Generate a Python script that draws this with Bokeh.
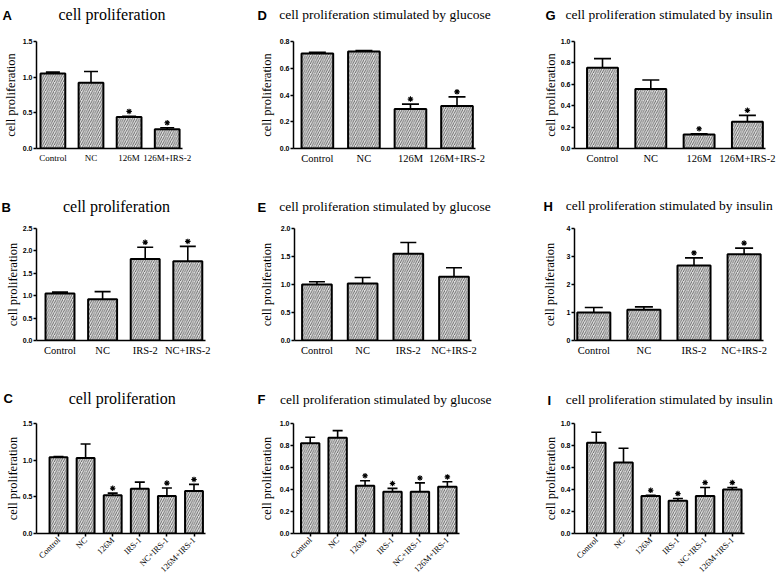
import math
from bokeh.plotting import figure
from bokeh.models import (ColumnDataSource, Range1d, FixedTicker, PrintfTickFormatter,
                          Whisker, TeeHead, Label)
from bokeh.layouts import row, column
from bokeh.embed import file_html
from bokeh.resources import INLINE

# ---------------- data ----------------
cats_126m = ["Control", "NC", "126M", "126M+IRS-2"]
cats_irs2 = ["Control", "NC", "IRS-2", "NC+IRS-2"]
cats_irs1 = ["Control", "NC", "126M", "IRS-1", "NC+IRS-1", "126M+IRS-1"]

a_mean = [1.05, 0.92, 0.44, 0.27]
a_sem = [0.02, 0.16, 0.01, 0.02]
a_star = [0, 0, 1, 1]

b_mean = [1.05, 0.92, 1.82, 1.77]
b_sem = [0.03, 0.17, 0.26, 0.33]
b_star = [0, 0, 1, 1]

c_mean = [1.04, 1.03, 0.52, 0.61, 0.51, 0.58]
c_sem = [0.01, 0.19, 0.03, 0.09, 0.11, 0.09]
c_star = [0, 0, 1, 0, 1, 1]

d_mean = [0.71, 0.725, 0.295, 0.318]
d_sem = [0.01, 0.008, 0.037, 0.068]
d_star = [0, 0, 1, 1]

e_mean = [1.0, 1.02, 1.55, 1.14]
e_sem = [0.05, 0.105, 0.2, 0.16]
e_star = [0, 0, 0, 0]

f_mean = [0.82, 0.87, 0.435, 0.38, 0.38, 0.425]
f_sem = [0.055, 0.065, 0.045, 0.03, 0.08, 0.045]
f_star = [0, 0, 1, 1, 1, 1]

g_mean = [0.755, 0.555, 0.13, 0.25]
g_sem = [0.085, 0.085, 0.008, 0.06]
g_star = [0, 0, 1, 1]

h_mean = [1.0, 1.1, 2.68, 3.08]
h_sem = [0.18, 0.1, 0.27, 0.22]
h_star = [0, 0, 1, 1]

i_mean = [0.825, 0.645, 0.34, 0.298, 0.34, 0.40]
i_sem = [0.095, 0.13, 0.008, 0.02, 0.078, 0.018]
i_star = [0, 0, 1, 1, 1, 1]

ticks_a = [0.0, 0.5, 1.0, 1.5]
ticks_b = [0.0, 0.5, 1.0, 1.5, 2.0, 2.5]
ticks_c = [0.0, 0.5, 1.0, 1.5]
ticks_d = [0.0, 0.2, 0.4, 0.6, 0.8]
ticks_e = [0.0, 0.5, 1.0, 1.5, 2.0]
ticks_f = [0.0, 0.2, 0.4, 0.6, 0.8, 1.0]
ticks_g = [0.0, 0.2, 0.4, 0.6, 0.8, 1.0]
ticks_h = [0, 1, 2, 3, 4]
ticks_i = [0.0, 0.2, 0.4, 0.6, 0.8, 1.0]

title_plain = "cell proliferation"
title_glucose = "cell proliferation stimulated by glucose"
title_insulin = "cell proliferation stimulated by insulin"
y_label = "cell proliferation"

# ---------------- layout (page pixels) ----------------
PAGE_W = 780
COL_X = [0, 256, 512]
COL_W = [256, 256, 268]
COL_FRAME_LEFT = [36, 292, 574]      # shared frame left per column
HEAD_Y = [0, 190, 380]               # header strip (panel letter + title) per row
HEAD_H = 28
ROW_Y = [28, 218, 408]               # chart strip per row
ROW_H = [162, 162, 172]
ROW_FRAME = [(41, 148), (228, 340), (423, 535)]   # shared frame top / bottom per row
STAR_GAP_PX = 5                      # distance of the significance star above the error cap

SERIF = "Liberation Serif"
SANS = "Liberation Sans"

# c0 = first bar centre (px), sp = bar spacing (px), right = x-axis end (px)
panels = {
    "A": dict(col=0, row=0, cats=cats_126m, mean=a_mean, sem=a_sem, star=a_star, ticks=ticks_a, fmt="%.1f",
              title=title_plain, c0=52.4, sp=38.1, right=182, bw=0.65, cap=14,
              tsize="16px", tpos=(111.5, 14), lpos=(2, 15), ylstand=2, rot=False, xfs="9px"),
    "B": dict(col=0, row=1, cats=cats_irs2, mean=b_mean, sem=b_sem, star=b_star, ticks=ticks_b, fmt="%.1f",
              title=title_plain, c0=59.5, sp=42.6, right=205, bw=0.68, cap=16,
              tsize="16px", tpos=(116, 206), lpos=(1, 207), ylstand=0, rot=False, xfs="10.5px"),
    "C": dict(col=0, row=2, cats=cats_irs1, mean=c_mean, sem=c_sem, star=c_star, ticks=ticks_c, fmt="%.1f",
              title=title_plain, c0=58, sp=27.1, right=205, bw=0.66, cap=10,
              tsize="16px", tpos=(121.7, 398), lpos=(3, 398), ylstand=0, rot=True, xfs="8.5px"),
    "D": dict(col=1, row=0, cats=cats_126m, mean=d_mean, sem=d_sem, star=d_star, ticks=ticks_d, fmt="%.1f",
              title=title_glucose, c0=316, sp=46.8, right=475, bw=0.68, cap=17,
              tsize="13.5px", tpos=(384.5, 14), lpos=(257, 15), ylstand=3, rot=False, xfs="10.5px"),
    "E": dict(col=1, row=1, cats=cats_irs2, mean=e_mean, sem=e_sem, star=e_star, ticks=ticks_e, fmt="%.1f",
              title=title_glucose, c0=314.7, sp=46.2, right=471, bw=0.65, cap=16,
              tsize="13.5px", tpos=(384.5, 206), lpos=(257, 207), ylstand=4, rot=False, xfs="10.5px"),
    "F": dict(col=1, row=2, cats=cats_irs1, mean=f_mean, sem=f_sem, star=f_star, ticks=ticks_f, fmt="%.1f",
              title=title_glucose, c0=308.8, sp=27.6, right=459, bw=0.67, cap=10,
              tsize="13.5px", tpos=(385.3, 399), lpos=(257, 399), ylstand=3, rot=True, xfs="8.5px"),
    "G": dict(col=2, row=0, cats=cats_126m, mean=g_mean, sem=g_sem, star=g_star, ticks=ticks_g, fmt="%.1f",
              title=title_insulin, c0=602, sp=48.3, right=765, bw=0.64, cap=17,
              tsize="13.5px", tpos=(668.5, 14), lpos=(545, 15), ylstand=0, rot=False, xfs="10.5px"),
    "H": dict(col=2, row=1, cats=cats_irs2, mean=h_mean, sem=h_sem, star=h_star, ticks=ticks_h, fmt="%d",
              title=title_insulin, c0=593.3, sp=50.1, right=763, bw=0.66, cap=18,
              tsize="13.5px", tpos=(668.7, 205), lpos=(543, 206), ylstand=7, rot=False, xfs="10.5px"),
    "I": dict(col=2, row=2, cats=cats_irs1, mean=i_mean, sem=i_sem, star=i_star, ticks=ticks_i, fmt="%.1f",
              title=title_insulin, c0=595.8, sp=27.2, right=744, bw=0.68, cap=10,
              tsize="13.5px", tpos=(668.7, 399), lpos=(547, 400), ylstand=0, rot=True, xfs="8.5px"),
}
rows_order = [["A", "D", "G"], ["B", "E", "H"], ["C", "F", "I"]]


def make_panel(s):
    cx0, cw = COL_X[s["col"]], COL_W[s["col"]]
    ry0, rh = ROW_Y[s["row"]], ROW_H[s["row"]]
    L = COL_FRAME_LEFT[s["col"]]
    R = s["right"]
    T, B = ROW_FRAME[s["row"]]
    n = len(s["cats"])
    ymax = s["ticks"][-1]
    x0 = 1 - (s["c0"] - L) / s["sp"]
    x1 = x0 + (R - L) / s["sp"]
    p = figure(width=cw, height=rh, output_backend="svg", toolbar_location=None,
               title_location=None,
               x_range=Range1d(x0, x1), y_range=Range1d(0, ymax),
               min_border_left=L - cx0, min_border_right=cx0 + cw - R,
               min_border_top=T - ry0, min_border_bottom=ry0 + rh - B)
    p.outline_line_color = None
    p.grid.visible = False
    p.background_fill_color = "white"
    p.border_fill_color = "white"

    xs = list(range(1, n + 1))
    upper = [m + e for m, e in zip(s["mean"], s["sem"])]
    src = ColumnDataSource(dict(x=xs, mean=s["mean"], upper=upper))

    p.vbar(x="x", top="mean", width=s["bw"], source=src,
           fill_color="#e2e2e2", hatch_pattern="/", hatch_color="#5a5a5a",
           hatch_scale=4.5, hatch_weight=0.9,
           line_color="black", line_width=2)
    p.add_layout(Whisker(source=src, base="x", lower="mean", upper="upper",
                         dimension="height", line_color="black", line_width=1.6,
                         upper_head=TeeHead(size=s["cap"], line_color="black", line_width=1.6),
                         lower_head=None))

    # significance stars: a few pixels above the error cap
    gap = STAR_GAP_PX * ymax / (B - T)
    sx = [x for x, f in zip(xs, s["star"]) if f]
    sy = [u + gap for u, f in zip(upper, s["star"]) if f]
    if sx:
        p.scatter(x=sx, y=sy, marker="asterisk", size=5.5, line_color="black", line_width=1.1)

    xa = p.xaxis[0]
    xa.ticker = FixedTicker(ticks=xs)
    xa.major_label_overrides = {i: c for i, c in zip(xs, s["cats"])}
    xa.minor_tick_line_color = None
    xa.major_tick_in = 0
    xa.axis_line_width = 1.5
    xa.major_tick_line_width = 1.5
    xa.major_label_text_font = SERIF
    xa.major_label_text_color = "black"
    xa.major_label_text_font_size = s["xfs"]
    if s["rot"]:
        xa.major_tick_out = 3
        xa.major_label_orientation = math.pi / 4
        xa.major_label_standoff = 2
    else:
        xa.major_tick_out = 0
        xa.major_label_standoff = 4

    ya = p.yaxis[0]
    ya.ticker = FixedTicker(ticks=s["ticks"])
    ya.formatter = PrintfTickFormatter(format=s["fmt"])
    ya.minor_tick_line_color = None
    ya.major_tick_in = 0
    ya.major_tick_out = 3
    ya.axis_line_width = 1.5
    ya.major_tick_line_width = 1.5
    ya.major_label_text_font = SANS
    ya.major_label_text_font_style = "bold"
    ya.major_label_text_font_size = "7px"
    ya.major_label_text_color = "black"
    ya.major_label_standoff = 1
    ya.axis_label = y_label
    ya.axis_label_text_font = SERIF
    ya.axis_label_text_font_style = "normal"
    ya.axis_label_text_font_size = "12.5px"
    ya.axis_label_text_color = "black"
    ya.axis_label_standoff = s["ylstand"]
    return p


def make_header(r):
    y0 = HEAD_Y[r]
    h = figure(width=PAGE_W, height=HEAD_H, output_backend="svg", toolbar_location=None,
               title_location=None,
               x_range=Range1d(0, PAGE_W), y_range=Range1d(0, HEAD_H),
               min_border_left=0, min_border_right=0, min_border_top=0, min_border_bottom=0,
               x_axis_location=None, y_axis_location=None)
    h.outline_line_color = None
    h.grid.visible = False
    for key in rows_order[r]:
        s = panels[key]
        lx, lb = s["lpos"]
        h.add_layout(Label(x=lx, y=y0 + HEAD_H - lb, x_units="screen", y_units="screen", text=key,
                           text_font=SANS, text_font_style="bold", text_font_size="13px",
                           text_align="left", text_baseline="alphabetic", text_color="black"))
        tx, tb = s["tpos"]
        h.add_layout(Label(x=tx, y=y0 + HEAD_H - tb, x_units="screen", y_units="screen", text=s["title"],
                           text_font=SERIF, text_font_size=s["tsize"],
                           text_align="center", text_baseline="alphabetic", text_color="black"))
    return h


figs = {k: make_panel(v) for k, v in panels.items()}
items = []
for r, keys in enumerate(rows_order):
    items.append(make_header(r))
    items.append(row(*[figs[k] for k in keys]))
layout = column(*items)

open("out.html", "w").write(file_html(layout, INLINE))
